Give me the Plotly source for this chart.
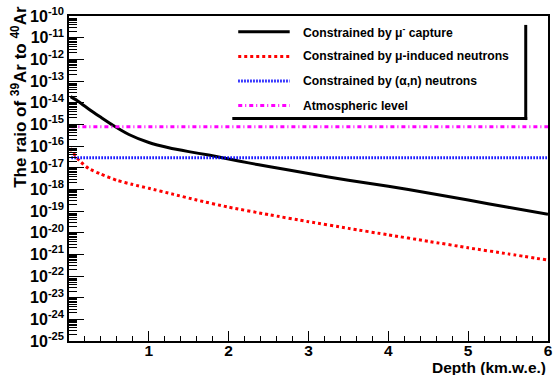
import plotly.graph_objects as go

# ---- data ----
depth_mu = [0.02, 0.1, 0.2, 0.3, 0.4, 0.55, 0.75, 1.0, 1.25, 1.5, 1.75, 2.0, 2.25,
            2.5, 3.0, 3.5, 4.0, 4.5, 5.0, 5.5, 6.0]
ratio_mu_capture = [1.9e-14, 1.26e-14, 6.8e-15, 3.7e-15, 2.1e-15, 9.1e-16, 3.4e-16,
                    1.45e-16, 8.3e-17, 5.5e-17, 3.8e-17, 2.5e-17, 1.66e-17, 1.12e-17,
                    5.4e-18, 2.6e-18, 1.38e-18, 6.8e-19, 3.2e-19, 1.48e-19, 7.1e-20]

depth_n = [0.02, 0.05, 0.1, 0.15, 0.25, 0.4, 0.6, 0.8, 1.0, 1.3, 1.6, 2.0, 2.5,
           3.0, 3.5, 4.0, 4.5, 5.0, 5.5, 6.0]
ratio_mu_neutrons = [7.9e-17, 5.0e-17, 2.8e-17, 1.78e-17, 8.9e-18, 5.0e-18, 2.6e-18,
                     1.66e-18, 1.12e-18, 6.0e-19, 3.2e-19, 1.5e-19, 6.8e-20, 3.2e-20,
                     1.58e-20, 7.9e-21, 4.0e-21, 2.0e-21, 1.05e-21, 5.4e-22]

depth_flat = [0.03, 6.0]
ratio_alpha_n = [2.9e-17, 2.9e-17]
ratio_atmospheric = [7.8e-16, 7.8e-16]

labels = ["Constrained by \u03bc<sup>-</sup> capture",
          "Constrained by \u03bc-induced neutrons",
          "Constrained by (\u03b1,n) neutrons",
          "Atmospheric level"]
colors = ["black", "#ff0000", "#0000ff", "#ff00ff"]
dashes = ["solid", "dot", "1.5px,1.5px", "4px,3px,1px,3px"]
widths = [3, 3, 3, 3]

x_ticks = [1, 2, 3, 4, 5, 6]
y_exponents = list(range(-25, -9))

# ---- figure ----
series = [(depth_mu, ratio_mu_capture), (depth_n, ratio_mu_neutrons),
          (depth_flat, ratio_alpha_n), (depth_flat, ratio_atmospheric)]

fig = go.Figure()
for (xs, ys), name, c, d, w in zip(series, labels, colors, dashes, widths):
    fig.add_trace(go.Scatter(x=xs, y=ys, mode="lines", name=name,
                             line=dict(color=c, dash=d, width=w, shape="spline",
                                       smoothing=0.5),
                             showlegend=False))

FONT = "Liberation Sans, Arial, sans-serif"

# plot area in pixels: x 69..553, y 13..341
W, H = 558, 375
L, R, T, B = 69, 5, 13, 34
pw, ph = W - L - R, H - T - B

def px_x(p):
    return (p - L) / pw

def px_y(p):
    return (H - B - p) / ph

# custom legend (ROOT style)
row0, step = 29.0, 24.8
for i, (name, c, d, w) in enumerate(zip(labels, colors, dashes, widths)):
    yy = px_y(row0 + i * step)
    fig.add_shape(type="line", xref="paper", yref="paper",
                  x0=px_x(240), x1=px_x(292), y0=yy, y1=yy,
                  line=dict(color=c, dash=d, width=w))
    fig.add_annotation(xref="paper", yref="paper", x=px_x(303), y=yy,
                       xanchor="left", yanchor="middle", showarrow=False,
                       text="<b>" + name + "</b>",
                       font=dict(family=FONT, size=12.2, color="black"))
# legend shadow
fig.add_shape(type="line", xref="paper", yref="paper",
              x0=px_x(530.5), x1=px_x(530.5), y0=px_y(22), y1=px_y(118),
              line=dict(color="black", width=3))
fig.add_shape(type="line", xref="paper", yref="paper",
              x0=px_x(234), x1=px_x(532), y0=px_y(116.5), y1=px_y(116.5),
              line=dict(color="black", width=3))

# axis titles
fig.add_annotation(xref="paper", yref="paper", x=px_x(19), y=px_y(95),
                   xanchor="center", yanchor="middle", textangle=-90, showarrow=False,
                   text="<b>The raio of <sup>39</sup>Ar to <sup>40</sup>Ar</b>",
                   font=dict(family=FONT, size=17, color="black"))
fig.add_annotation(xref="paper", yref="paper", x=1, y=px_y(368),
                   xanchor="right", yanchor="middle", showarrow=False,
                   text="<b>Depth (km.w.e.)</b>",
                   font=dict(family=FONT, size=15.5, color="black"))

minor_y = [k * 10.0 ** e for e in range(-25, -10) for k in range(2, 10)]

fig.update_layout(
    width=W, height=H,
    margin=dict(l=L, r=R, t=T, b=B),
    paper_bgcolor="white", plot_bgcolor="white",
    xaxis=dict(range=[0, 6], tickmode="array", tickvals=x_ticks,
               ticktext=[str(v) for v in x_ticks],
               ticks="inside", ticklen=10, tickwidth=1, tickcolor="black",
               ticklabelstandoff=-5,
               minor=dict(dtick=0.2, tick0=0, ticks="inside", ticklen=5,
                          tickwidth=1, tickcolor="black", showgrid=False),
               showline=True, linecolor="black", linewidth=1.5, mirror=True,
               showgrid=False, zeroline=False,
               tickfont=dict(family=FONT, size=15.5, color="black", weight="bold")),
    yaxis=dict(type="log", range=[-25, -10], tickmode="array",
               tickvals=[10.0 ** e for e in y_exponents],
               ticktext=["10<sup>%d</sup>" % e for e in y_exponents],
               ticks="inside", ticklen=15, tickwidth=1, tickcolor="black",
               minor=dict(tickmode="array", tickvals=minor_y, ticks="inside",
                          ticklen=8, tickwidth=1, tickcolor="black", showgrid=False),
               showline=True, linecolor="black", linewidth=1.5, mirror=True,
               showgrid=False, zeroline=False,
               tickfont=dict(family=FONT, size=16, color="black", weight="bold")),
)

fig.write_html("out.html")
